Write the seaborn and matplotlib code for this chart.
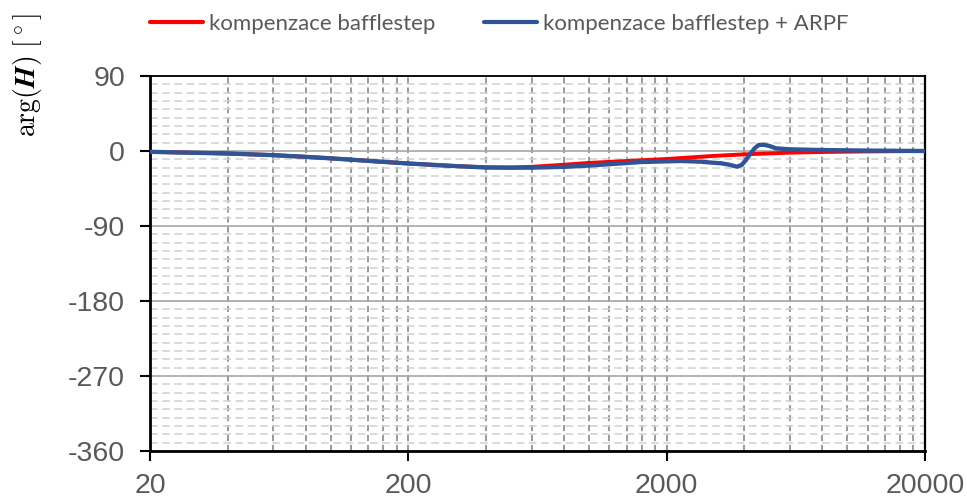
import numpy as np
import pandas as pd
import matplotlib
matplotlib.use("Agg")
import matplotlib.pyplot as plt
import seaborn as sns
from matplotlib.ticker import FixedLocator, FixedFormatter, NullFormatter
from matplotlib.lines import Line2D

# ---------------- data ----------------
series_names = ["kompenzace bafflestep", "kompenzace bafflestep + ARPF"]

red_freq = [20, 40, 60, 80, 100, 120, 150, 200, 300, 400, 500, 600, 800, 1000,
            1500, 2000, 3000, 4000, 6000, 8000, 12000, 20000]
red_phase = [-1, -3, -5, -7, -8.8, -10.4, -12.5, -15, -18, -19.6, -19.9, -19,
             -16.5, -14.3, -11.5, -9.6, -6, -4, -2, -1.2, -0.5, 0]

blue_freq = [20, 40, 60, 80, 100, 120, 150, 200, 300, 400, 500, 600, 800, 1000,
             1600, 2270, 2700, 3000, 3260, 3500, 3740, 3900, 4050, 4180, 4380,
             4540, 4750, 5000, 5300, 6000, 7900, 12000, 20000]
blue_phase = [-1, -3, -5, -7, -8.8, -10.4, -12.5, -15, -18, -19.8, -20, -20,
              -19, -17.5, -13.2, -12, -12.8, -14, -14.8, -16.5, -18.8, -16.8,
              -11, -4.8, 3.2, 7.2, 7.5, 6, 3.2, 2, 1.2, 0.5, 0]

x_ticks = [20, 200, 2000, 20000]
x_labels = ["20", "200", "2000", "20000"]
y_ticks = [-360, -270, -180, -90, 0, 90]
y_labels = ["-360", "-270", "-180", "-90", "0", "90"]

colors = ["#FF0000", "#2F5597"]

df_red = pd.DataFrame({"f": red_freq, "phase": red_phase})
df_blue = pd.DataFrame({"f": blue_freq, "phase": blue_phase})

# ---------------- style ----------------
sns.set_style("white")
plt.rcParams["font.family"] = ["Liberation Sans", "DejaVu Sans"]
plt.rcParams["mathtext.fontset"] = "cm"

fig = plt.figure(figsize=(9.67, 4.98), dpi=100)
ax = fig.add_axes([150 / 967, 47 / 498, 775 / 967, 375 / 498])

sns.lineplot(data=df_red, x="f", y="phase", ax=ax, color=colors[0],
             linewidth=2.8, sort=False, legend=False, zorder=3)
sns.lineplot(data=df_blue, x="f", y="phase", ax=ax, color=colors[1],
             linewidth=3.1, sort=False, legend=False, zorder=4)

ax.set_xscale("log")
ax.set_xlim(20, 20000)
ax.set_ylim(-360, 90)

minor_x = [20 * k * 10 ** d for d in range(3) for k in range(2, 10)]
ax.xaxis.set_major_locator(FixedLocator(x_ticks))
ax.xaxis.set_major_formatter(FixedFormatter(x_labels))
ax.xaxis.set_minor_locator(FixedLocator(minor_x))
ax.xaxis.set_minor_formatter(NullFormatter())
ax.yaxis.set_major_locator(FixedLocator(y_ticks))
ax.yaxis.set_major_formatter(FixedFormatter(y_labels))
ax.yaxis.set_minor_locator(FixedLocator(list(range(-350, 90, 10))))
ax.yaxis.set_minor_formatter(NullFormatter())

ax.set_axisbelow(True)
ax.grid(which="minor", axis="y", color="#D0D0D0", linewidth=1.1, linestyle=(0, (5, 3)))
ax.grid(which="major", axis="y", color="#A6A6A6", linewidth=1.2, linestyle="-")
ax.grid(which="both", axis="x", color="#7F7F7F", linewidth=1.1, linestyle=(0, (4, 2.5)))

ax.tick_params(axis="x", which="major", bottom=True, direction="out", length=7,
               width=1.5, color="black", pad=8.5, labelsize=20.5, labelcolor="#595959")
ax.tick_params(axis="y", which="major", left=True, direction="out", length=7,
               width=1.5, color="black", pad=11, labelsize=20.5, labelcolor="#595959")
ax.tick_params(which="minor", length=0)

ax.set_xlabel("")
ax.set_ylabel("")
for side, lw in [("left", 2.0), ("bottom", 2.0), ("top", 1.3), ("right", 1.6)]:
    ax.spines[side].set_visible(True)
    ax.spines[side].set_color("black")
    ax.spines[side].set_linewidth(lw)

fig.text(27 / 967, 1 - 75 / 498, r"$\mathrm{arg}(\boldsymbol{H})\ [^\circ]$",
         rotation=90, ha="center", va="center", fontsize=20, color="black")

handles = [Line2D([], [], color=colors[0], linewidth=3),
           Line2D([], [], color=colors[1], linewidth=3)]
leg = fig.legend(handles, series_names, loc="center left",
                 bbox_to_anchor=(150 / 967, 1 - 24 / 498), ncol=2, frameon=False,
                 prop={"family": "Lato", "size": 16}, labelcolor="#595959",
                 handlelength=2.4, handletextpad=0.25, columnspacing=2.2,
                 borderpad=0, borderaxespad=0)

fig.savefig("out.png", dpi=100)
